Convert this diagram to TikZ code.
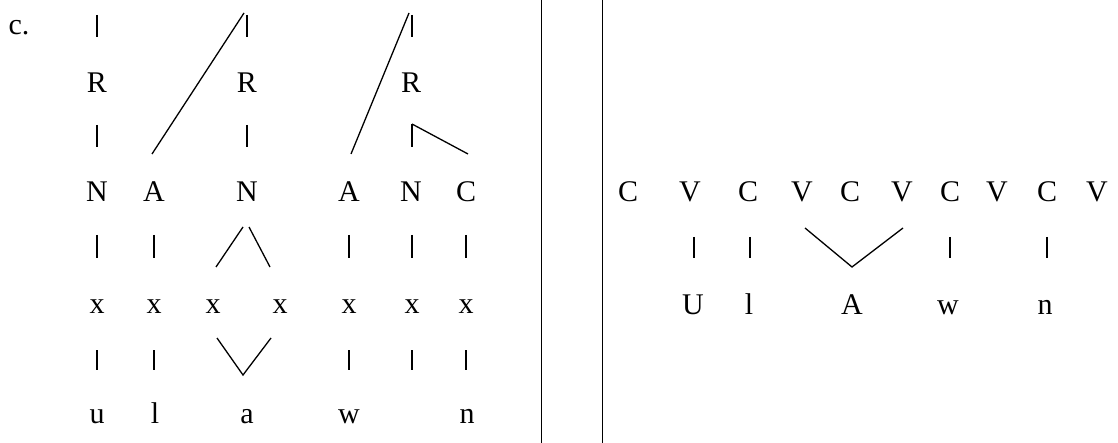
\documentclass[tikz,border=0pt]{standalone}
\usepackage{fontspec}
\setmainfont{Liberation Serif}
\begin{document}
\begin{tikzpicture}[x=1pt,y=-1pt,
  lt/.style={font=\fontsize{30}{35}\selectfont, anchor=base, inner sep=0pt},
  barl/.style={line width=2.1pt},
  ln/.style={line width=1.3pt},
  sep/.style={line width=1pt}]
\useasboundingbox (0,0) rectangle (1118,443);
% separators
\draw[sep] (541.5,0) -- (541.5,443);
\draw[sep] (602,0) -- (602,443);
% label
\node[lt] (lab) at (19,35) {c.};
% R row
\node[lt] (R1) at (97,93) {R};
\node[lt] (R2) at (247,93) {R};
\node[lt] (R3) at (411,93) {R};
% N row
\node[lt] (N1) at (97,202) {N};
\node[lt] (A1) at (154,202) {A};
\node[lt] (N2) at (247,202) {N};
\node[lt] (A2) at (349,202) {A};
\node[lt] (N3) at (411,202) {N};
\node[lt] (C1) at (466,202) {C};
% x row
\node[lt] (x1) at (97,313) {x};
\node[lt] (x2) at (154,313) {x};
\node[lt] (x3) at (213,313) {x};
\node[lt] (x4) at (280,313) {x};
\node[lt] (x5) at (349,313) {x};
\node[lt] (x6) at (412,313) {x};
\node[lt] (x7) at (466,313) {x};
% segment row
\node[lt] (s1) at (97,423) {u};
\node[lt] (s2) at (155,423) {l};
\node[lt] (s3) at (247,423) {a};
\node[lt] (s4) at (349,423) {w};
\node[lt] (s5) at (467,423) {n};
% top bars and diagonals
\draw[barl] (97,15) -- (97,37);
\draw[barl] (247,15) -- (247,37);
\draw[barl] (412,15) -- (412,37);
\draw[ln] (244,13) -- (152,154);
\draw[ln] (409,13) -- (351,154);
% R to N
\draw[barl] (97,125) -- (97,147);
\draw[barl] (247,125) -- (247,147);
\draw[barl] (412,124) -- (412,147);
\draw[ln] (412,124) -- (468,154);
% N row to x row
\foreach \xx in {97,154,349,412,466} \draw[barl] (\xx,235) -- (\xx,258);
\draw[ln] (216,267) -- (243,227);
\draw[ln] (249,227) -- (270,267);
% x row to segments
\foreach \xx in {97,154,349,412,466} \draw[barl] (\xx,350) -- (\xx,370);
\draw[ln] (217,338) -- (243,375) -- (271,338);
% right side CV tier
\node[lt] (r1) at (628,202) {C};
\node[lt] (r2) at (690,202) {V};
\node[lt] (r3) at (748,202) {C};
\node[lt] (r4) at (802,202) {V};
\node[lt] (r5) at (850,202) {C};
\node[lt] (r6) at (902,202) {V};
\node[lt] (r7) at (950,202) {C};
\node[lt] (r8) at (997,202) {V};
\node[lt] (r9) at (1047,202) {C};
\node[lt] (r10) at (1097,202) {V};
% right segments
\node[lt] (t1) at (693,315) {U};
\node[lt] (t2) at (749,315) {l};
\node[lt] (t3) at (852,315) {A};
\node[lt] (t4) at (948,315) {w};
\node[lt] (t5) at (1045,315) {n};
\foreach \xx in {694,750,950,1047} \draw[barl] (\xx,237) -- (\xx,258);
\draw[ln] (805,228) -- (852,267) -- (903,228);
\end{tikzpicture}
\end{document}
